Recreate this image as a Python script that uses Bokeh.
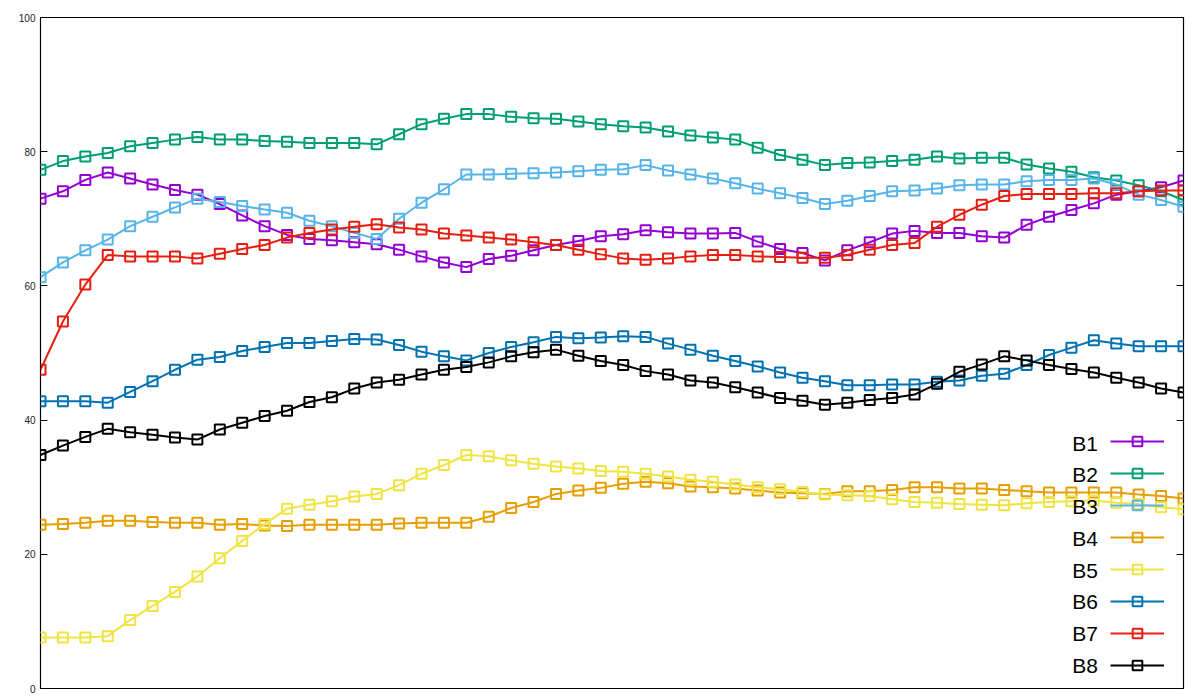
from bokeh.plotting import figure
from bokeh.models import Range1d, LinearAxis, FixedTicker, Legend, LegendItem, Label
from bokeh.embed import file_html
from bokeh.resources import INLINE

x = list(range(52))

B1 = [73.0, 74.1, 75.8, 76.9, 76.0, 75.1, 74.3, 73.6, 72.2, 70.5, 68.9, 67.6, 67.0, 66.8, 66.5, 66.2, 65.4, 64.4, 63.5, 62.8,
      64.0, 64.5, 65.3, 66.1, 66.7, 67.4, 67.7, 68.3, 68.0, 67.8, 67.8, 67.9, 66.6, 65.5, 64.9, 63.8, 65.3, 66.5, 67.8, 68.2,
      67.9, 67.9, 67.4, 67.2, 69.1, 70.3, 71.3, 72.3, 73.6, 74.1, 74.7, 75.7]
B2 = [77.3, 78.6, 79.3, 79.8, 80.8, 81.3, 81.8, 82.2, 81.8, 81.8, 81.6, 81.5, 81.3, 81.3, 81.3, 81.1, 82.6, 84.1, 84.9, 85.6,
      85.6, 85.2, 85.0, 84.9, 84.5, 84.1, 83.8, 83.6, 83.0, 82.4, 82.1, 81.8, 80.6, 79.5, 78.8, 78.0, 78.3, 78.4, 78.6, 78.8,
      79.3, 79.0, 79.1, 79.1, 78.1, 77.5, 77.0, 76.2, 75.7, 75.0, 74.1, 72.8]
B3 = [61.3, 63.5, 65.3, 66.9, 68.9, 70.3, 71.7, 73.0, 72.5, 71.9, 71.4, 70.9, 69.7, 68.9, 67.9, 67.0, 70.0, 72.4, 74.4, 76.6,
      76.6, 76.7, 76.8, 76.9, 77.1, 77.3, 77.4, 78.0, 77.2, 76.6, 76.0, 75.3, 74.5, 73.8, 73.1, 72.2, 72.7, 73.4, 74.1, 74.2,
      74.5, 75.0, 75.1, 75.1, 75.6, 75.8, 75.8, 76.0, 75.1, 73.6, 72.8, 71.8]
B4 = [24.4, 24.5, 24.7, 25.0, 25.0, 24.8, 24.7, 24.7, 24.4, 24.5, 24.3, 24.2, 24.4, 24.4, 24.4, 24.4, 24.6, 24.7, 24.7, 24.7,
      25.6, 26.9, 27.8, 29.0, 29.5, 29.9, 30.5, 30.8, 30.6, 30.1, 30.0, 29.8, 29.5, 29.2, 29.1, 29.0, 29.4, 29.4, 29.6, 30.0,
      30.0, 29.8, 29.8, 29.6, 29.4, 29.2, 29.2, 29.2, 29.2, 28.9, 28.7, 28.3]
B5 = [7.6, 7.6, 7.6, 7.8, 10.2, 12.3, 14.4, 16.7, 19.4, 22.0, 24.5, 26.8, 27.4, 27.9, 28.6, 29.0, 30.3, 32.0, 33.3, 34.8,
      34.6, 34.0, 33.5, 33.1, 32.8, 32.4, 32.3, 32.0, 31.6, 31.1, 30.8, 30.4, 30.0, 29.7, 29.3, 28.9, 28.8, 28.7, 28.2, 27.8,
      27.7, 27.5, 27.4, 27.3, 27.6, 27.8, 27.9, 28.0, 27.7, 27.5, 27.0, 26.7]
B6 = [42.8, 42.8, 42.8, 42.6, 44.2, 45.8, 47.5, 49.0, 49.4, 50.3, 50.9, 51.5, 51.5, 51.8, 52.1, 52.0, 51.2, 50.2, 49.5, 48.9,
      50.0, 50.9, 51.6, 52.4, 52.2, 52.3, 52.5, 52.4, 51.4, 50.5, 49.6, 48.8, 48.0, 47.1, 46.3, 45.8, 45.2, 45.2, 45.3, 45.3,
      45.7, 45.9, 46.6, 46.9, 48.2, 49.7, 50.8, 51.9, 51.4, 51.0, 51.0, 51.0]
B7 = [47.5, 54.7, 60.2, 64.6, 64.4, 64.4, 64.4, 64.1, 64.8, 65.5, 66.1, 67.2, 67.9, 68.4, 68.8, 69.2, 68.7, 68.4, 67.8, 67.5,
      67.2, 66.9, 66.5, 66.1, 65.4, 64.7, 64.1, 63.9, 64.1, 64.4, 64.6, 64.6, 64.4, 64.3, 64.2, 64.2, 64.6, 65.4, 66.1, 66.4,
      68.8, 70.6, 72.1, 73.4, 73.7, 73.7, 73.7, 73.8, 73.8, 74.1, 74.2, 74.2]
B8 = [34.8, 36.2, 37.5, 38.7, 38.2, 37.8, 37.4, 37.1, 38.6, 39.6, 40.6, 41.4, 42.7, 43.4, 44.7, 45.6, 46.0, 46.8, 47.5, 47.9,
      48.6, 49.5, 50.1, 50.5, 49.6, 48.8, 48.2, 47.3, 46.8, 45.9, 45.6, 44.9, 44.1, 43.3, 42.9, 42.3, 42.6, 43.0, 43.3, 43.8,
      45.4, 47.2, 48.3, 49.5, 48.9, 48.2, 47.6, 47.1, 46.3, 45.6, 44.7, 44.1]

names = ["B1", "B2", "B3", "B4", "B5", "B6", "B7", "B8"]
series = [B1, B2, B3, B4, B5, B6, B7, B8]
colors = ["#9400D3", "#009E73", "#56B4E9", "#E69F00", "#F0E442", "#0072B2", "#E51E10", "#000000"]
yticks = [0, 20, 40, 60, 80, 100]

p = figure(width=1200, height=700, output_backend="svg", toolbar_location=None,
           x_range=Range1d(0, 51), y_range=Range1d(0, 100),
           x_axis_location=None, y_axis_location="left",
           min_border_left=40, min_border_right=17, min_border_top=17, min_border_bottom=12)
p.grid.visible = False
p.outline_line_color = "black"
p.outline_line_width = 1.2
p.background_fill_color = "white"
p.border_fill_color = "white"

ax = p.yaxis[0]
ax.ticker = FixedTicker(ticks=yticks)
ax.axis_line_color = None
ax.major_tick_in = 7
ax.major_tick_out = 0
ax.minor_tick_line_color = None
ax.major_tick_line_color = "black"
ax.major_label_standoff = 5
ax.major_label_text_font = "Liberation Sans"
ax.major_label_text_font_size = "10px"
ax.major_label_text_color = "#222222"

rax = LinearAxis(ticker=FixedTicker(ticks=yticks))
rax.axis_line_color = None
rax.major_tick_in = 7
rax.major_tick_out = 0
rax.minor_tick_line_color = None
rax.major_label_text_font_size = "0px"
rax.major_label_standoff = 0
rax.major_label_text_color = None
p.add_layout(rax, "right")

items = []
for name, ys, c in zip(names, series, colors):
    lr = p.line(x, ys, line_color=c, line_width=2)
    sr = p.scatter(x, ys, marker="square", size=10, fill_color=None, line_color=c, line_width=2)
    items.append(LegendItem(label=" ", renderers=[lr, sr]))

leg = Legend(items=items, location=(1070, 11), orientation="vertical",
             glyph_width=54, glyph_height=24, spacing=8, padding=0, margin=0,
             label_standoff=0, label_width=0, label_height=24,
             label_text_font_size="1px", border_line_color=None,
             background_fill_alpha=0, click_policy="none")
p.add_layout(leg, "center")

# legend text, right-aligned left of the samples (gnuplot style)
px_per_unit = 671 / 100.0
for k, name in enumerate(names):
    cy = 442.7 + k * 31.75
    yv = (688 - cy) / px_per_unit
    xv = (1097.5 - 39.5) / (1143.5 / 51)
    p.add_layout(Label(x=xv, y=yv, text=name, text_align="right", text_baseline="middle",
                       text_font="Liberation Sans", text_font_size="21px", text_color="black"))

open("out.html", "w").write(file_html(p, INLINE))
